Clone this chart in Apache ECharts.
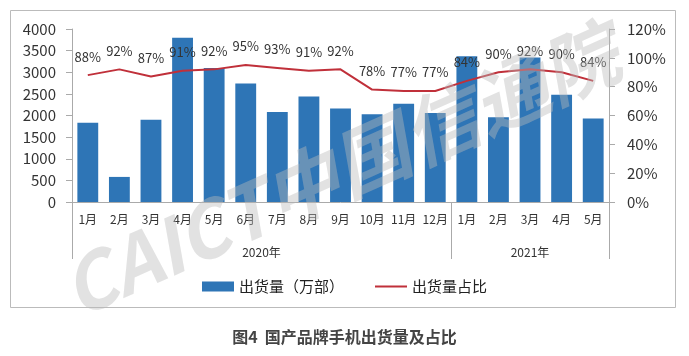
<!DOCTYPE html>
<html>
<head>
<meta charset="utf-8">
<style>html,body{margin:0;padding:0;background:#fff;}#c{width:689px;height:356px;}</style>
<script src="https://cdn.jsdelivr.net/npm/echarts@6/dist/echarts.min.js"></script>
</head>
<body>
<div id="c"></div>
<script>
var months = ['1月','2月','3月','4月','5月','6月','7月','8月','9月','10月','11月','12月','1月','2月','3月','4月','5月'];
var years = ['2020年','2021年'];
var yearSpans = [12, 5];
var shipments = [1830, 580, 1900, 3800, 3100, 2740, 2080, 2440, 2160, 2030, 2270, 2060, 3370, 1960, 3340, 2480, 1930];
var shares = [88, 92, 87, 91, 92, 95, 93, 91, 92, 78, 77, 77, 84, 90, 92, 90, 84];
var leftTicks = {min: 0, max: 4000, interval: 500};
var rightTicks = {min: 0, max: 120, interval: 20};

var boundaries = [0], centers = [], acc = 0;
yearSpans.forEach(function (s) { centers.push(acc + s / 2); acc += s; boundaries.push(acc); });

var font = '"Noto Sans CJK SC", "Noto Sans", sans-serif';
var chart = echarts.init(document.getElementById('c'), null, {renderer: 'canvas'});
chart.setOption({
  animation: false,
  textStyle: {fontFamily: font},
  title: {
    text: '图4  国产品牌手机出货量及占比',
    left: 'center', top: 324,
    textStyle: {fontSize: 16, fontWeight: 'bold', color: '#444', fontFamily: font}
  },
  graphic: [
    {type: 'rect', shape: {x: 10.5, y: 10.5, width: 665, height: 297}, style: {fill: 'none', stroke: '#bbb', lineWidth: 1}, z: 0},
    {type: 'text', x: 340, y: 170, rotation: 0.42, z: 100,
     style: {text: 'CAICT中国信通院', fontSize: 76, fontWeight: 'bold', fontStyle: 'italic', fontFamily: font,
             fill: 'rgba(185,185,185,0.42)', align: 'center', verticalAlign: 'middle'}}
  ],
  legend: {
    top: 274, left: 'center', itemWidth: 32, itemHeight: 10, itemGap: 30,
    textStyle: {fontSize: 15, color: '#222', fontFamily: font},
    data: [
      {name: '出货量（万部）', icon: 'rect'},
      {name: '出货量占比', itemStyle: {color: 'rgba(0,0,0,0)', borderWidth: 0, opacity: 0}}
    ]
  },
  grid: {left: 72, right: 80, top: 29, bottom: 154, containLabel: false},
  xAxis: [
    {type: 'category', data: months, position: 'bottom',
     axisLine: {lineStyle: {color: '#aaa'}},
     axisTick: {interval: 0, length: 28, lineStyle: {color: '#aaa'}},
     axisLabel: {interval: 0, fontSize: 12, color: '#333', margin: 11}},
    {type: 'value', min: 0, max: 17, position: 'bottom',
     axisLine: {show: false}, splitLine: {show: false},
     axisTick: {show: true, customValues: boundaries, length: 57, lineStyle: {color: '#aaa'}},
     axisLabel: {show: true, customValues: centers, fontSize: 12, color: '#333', margin: 44,
       formatter: function (v) { var i = centers.indexOf(v); return i >= 0 ? years[i] : ''; }}}
  ],
  yAxis: [
    {type: 'value', min: leftTicks.min, max: leftTicks.max, interval: leftTicks.interval,
     axisLine: {show: true, lineStyle: {color: '#aaa'}},
     axisTick: {show: true, length: 6, lineStyle: {color: '#aaa'}},
     splitLine: {show: false},
     axisLabel: {fontSize: 15, color: '#333', margin: 16, formatter: function (v) { return String(v); }}},
    {type: 'value', min: rightTicks.min, max: rightTicks.max, interval: rightTicks.interval, position: 'right',
     axisLine: {show: true, lineStyle: {color: '#aaa'}},
     axisTick: {show: true, length: 6, lineStyle: {color: '#aaa'}},
     splitLine: {show: false},
     axisLabel: {fontSize: 15, color: '#333', margin: 18, formatter: '{value}%'}}
  ],
  series: [
    {name: '出货量（万部）', type: 'bar', data: shipments, xAxisIndex: 0, yAxisIndex: 0,
     barWidth: '66%', itemStyle: {color: '#2E75B6'}},
    {name: '出货量占比', type: 'line', data: shares, xAxisIndex: 0, yAxisIndex: 1,
     symbol: 'circle', symbolSize: 0.01, showSymbol: true, showAllSymbol: true,
     lineStyle: {color: '#C0303A', width: 2}, itemStyle: {color: '#C0303A'},
     label: {show: true, position: 'top', distance: 12, fontSize: 13, color: '#333', formatter: '{c}%'}}
  ]
});
</script>
</body>
</html>
